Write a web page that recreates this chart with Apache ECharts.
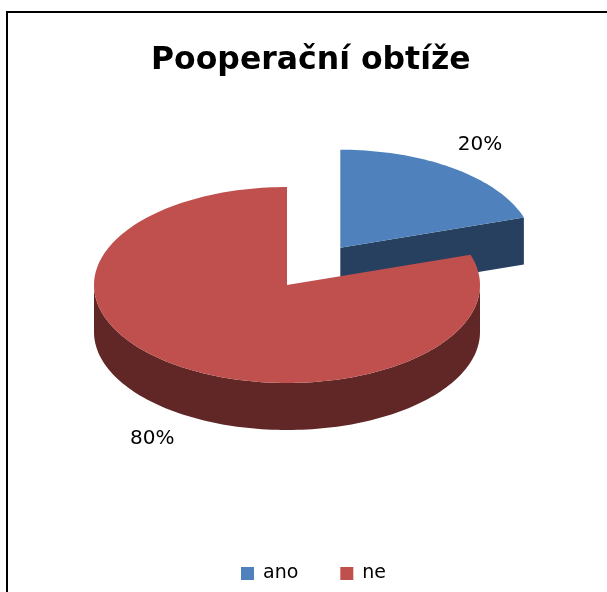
<!DOCTYPE html>
<html>
<head>
<meta charset="utf-8">
<script src="https://cdn.jsdelivr.net/npm/echarts@6/dist/echarts.min.js"></script>
<style>html,body{margin:0;padding:0;background:#fff}#c{width:607px;height:592px}</style>
</head>
<body>
<div id="c"></div>
<script>
const titleText = 'Pooperační obtíže';
const categories = ['ano', 'ne'];
const values = [20, 80];
const labelTexts = ['20%', '80%'];
const topColors = ['#4F81BD', '#C0504D'];
const sideColors = ['#27405F', '#612626'];
const explode = [0.47, 0];

// layout of the pseudo-3D pie
const CX = 287, CY = 285, RX = 193, RY = 98, DEPTH = 47, START = 90;
const LABEL_K = 1.21;
const FONT = '"DejaVu Sans", Verdana, sans-serif';

const total = values.reduce((a, b) => a + b, 0);
const rad = d => d * Math.PI / 180;

function makeRender(i) {
  return function (params, api) {
    const v = api.value(0);
    let cum = 0;
    for (let k = 0; k < i; k++) cum += values[k];
    const a0 = START - cum / total * 360;
    const a1 = a0 - v / total * 360;
    const mid = (a0 + a1) / 2;
    const e = explode[i] * RX;
    const cx = CX + e * Math.cos(rad(mid));
    const cy = CY - e * Math.sin(rad(mid)) * RY / RX;
    const pt = (a, dy) => [cx + RX * Math.cos(rad(a)), cy - RY * Math.sin(rad(a)) + (dy || 0)];
    const arc = (from, to, dy) => {
      const n = Math.max(2, Math.ceil(Math.abs(to - from) / 1.5));
      const out = [];
      for (let j = 0; j <= n; j++) out.push(pt(from + (to - from) * j / n, dy));
      return out;
    };
    const children = [];
    const side = sideColors[i];
    // cut faces
    if (Math.cos(rad(a0)) < -1e-6) {
      const p = pt(a0);
      children.push({type: 'polygon', shape: {points: [[cx, cy], p, [p[0], p[1] + DEPTH], [cx, cy + DEPTH]]}, style: {fill: side}});
    }
    if (Math.cos(rad(a1)) > 1e-6) {
      const p = pt(a1);
      children.push({type: 'polygon', shape: {points: [[cx, cy], p, [p[0], p[1] + DEPTH], [cx, cy + DEPTH]]}, style: {fill: side}});
    }
    // outer wall (front part only)
    for (let k = -2; k <= 2; k++) {
      const lo = Math.max(a1, 180 + 360 * k);
      const hi = Math.min(a0, 360 + 360 * k);
      if (hi > lo) {
        const topArc = arc(lo, hi, 0);
        const botArc = arc(hi, lo, DEPTH);
        children.push({type: 'polygon', shape: {points: topArc.concat(botArc)}, style: {fill: side}});
      }
    }
    // top face
    children.push({type: 'polygon', shape: {points: [[cx, cy]].concat(arc(a0, a1, 0))}, style: {fill: topColors[i]}});
    // label
    const s = Math.sin(rad(mid));
    const c = Math.cos(rad(mid));
    const lx = cx + RX * LABEL_K * c + 2.5;
    const ly = cy - RY * LABEL_K * s + (s < 0 ? DEPTH + 11 : -7);
    children.push({type: 'text', x: lx, y: ly, style: {text: labelTexts[i], fill: '#000', font: '20px ' + FONT, align: 'center', verticalAlign: 'middle'}});
    return {type: 'group', children: children};
  };
}

const chart = echarts.init(document.getElementById('c'));
chart.setOption({
  backgroundColor: '#fff',
  animation: false,
  title: {
    text: titleText, left: 146, top: 40,
    textStyle: {fontFamily: FONT, fontWeight: 'bold', fontSize: 31.5, color: '#000'}
  },
  legend: {
    data: categories, top: 559, left: 236, icon: 'rect',
    itemWidth: 13, itemHeight: 13, itemGap: 42,
    textStyle: {fontFamily: FONT, fontSize: 19, color: '#000', padding: [0, 0, 0, 4]}
  },
  graphic: [{
    type: 'rect', shape: {x: 7, y: 12, width: 700, height: 700},
    style: {fill: 'none', stroke: '#000', lineWidth: 2}, z: 100
  }],
  series: categories.map((name, i) => ({
    type: 'custom', name: name, coordinateSystem: 'none',
    color: topColors[i],
    data: [[values[i]]],
    renderItem: makeRender(i)
  }))
});
</script>
</body>
</html>
